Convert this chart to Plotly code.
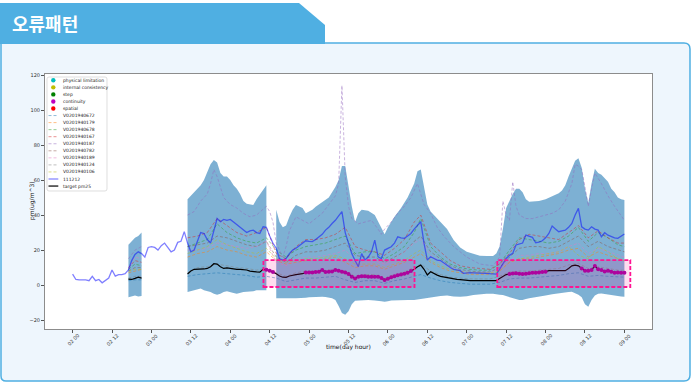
import plotly.graph_objects as go
from datetime import datetime, timedelta

# ---------------- data ----------------
tick_hours = [0, 12, 24, 36, 48, 60, 72, 84, 96, 108, 120, 132, 144, 156, 168]
tick_labels = ["02 00", "02 12", "03 00", "03 12", "04 00", "04 12", "05 00", "05 12",
               "06 00", "06 12", "07 00", "07 12", "08 00", "08 12", "09 00"]
y_ticks = [-20, 0, 20, 40, 60, 80, 100, 120]

# station 111212 (hourly, 02 00 .. 09 00)
obs_hours = list(range(0, 169))
obs_111212 = [
    6.3, 3.2, 3.0, 3.0, 3.0, 2.5, 5.0, 2.5, 3.2, 1.3, 2.5, 4.0,
    8.6, 5.1, 6.0, 6.0, 6.5, 8.6, 14.0, 17.5, 19.0, 18.0, 16.0, 21.5,
    22.0, 21.5, 20.0, 22.5, 24.0, 21.5, 19.0, 20.0, 24.4, 25.0, 30.5, 24.0,
    19.0, 20.0, 25.0, 30.0, 29.5, 26.0, 24.0, 31.0, 38.0, 36.2, 37.5, 37.0,
    37.5, 36.0, 34.5, 33.0, 31.8, 30.0, 31.0, 31.4, 30.0, 29.5, 33.3, 33.0,
    28.0, 24.0, 21.0, 15.0, 14.3, 15.2, 18.0, 20.0, 21.0, 22.5, 24.0, 25.3,
    25.0, 24.8, 26.0, 27.6, 29.0, 31.4, 33.0, 35.2, 37.0, 39.5, 42.0, 30.0,
    23.8, 18.0, 14.0, 10.5, 18.0, 14.3, 16.0, 19.0, 25.7, 16.2, 15.2, 20.0,
    21.0, 21.9, 24.0, 27.6, 27.0, 26.7, 28.0, 29.5, 32.0, 34.0, 36.2, 23.8,
    14.3, 16.2, 15.0, 14.3, 14.0, 12.5, 11.0, 10.0, 9.0, 8.5, 8.2, 6.7,
    7.0, 7.1, 7.0, 7.0, 6.8, 6.7, 6.7, 6.5, 6.4, 6.3, 9.0, 12.0,
    15.2, 17.0, 18.1, 22.9, 23.5, 24.0, 28.6, 28.0, 27.3, 24.2, 24.5, 25.3,
    27.0, 29.5, 33.7, 32.0, 30.5, 31.0, 31.4, 33.0, 35.2, 40.0, 43.8, 33.3,
    32.0, 31.4, 33.3, 32.0, 31.4, 27.6, 29.9, 28.5, 27.6, 27.0, 26.7, 28.0,
    29.2]

# target pm25
target_a_hours = [17, 18, 19, 20, 21]
target_a = [3.4, 3.2, 3.8, 4.5, 4.0]
target_b_hours = list(range(35, 169))
target_b = [
    6.3, 8.0, 9.0, 9.0, 9.0, 9.2, 9.5, 10.5, 12.2, 12.0, 10.5, 9.5,
    9.8, 9.5, 9.0, 9.0, 9.0, 9.0, 8.6, 8.0, 7.6, 7.5, 7.4, 9.0,
    8.8, 8.2, 7.4, 6.5, 5.2, 4.5, 4.4, 5.2, 5.8, 6.0, 6.3, 6.5,
    7.2, 7.2, 7.2, 7.4, 7.6, 8.6, 7.4, 7.6, 7.8, 8.6, 8.2, 7.6,
    7.2, 6.3, 4.8, 3.8, 4.8, 5.1, 5.0, 4.8, 4.8, 4.8, 4.8, 4.0,
    2.9, 3.6, 4.4, 5.0, 5.6, 6.0, 6.5, 7.0, 8.0, 9.0, 10.5, 11.4,
    9.0, 5.8, 7.6, 6.5, 5.7, 5.0, 4.6, 4.2, 3.8, 3.5, 3.3, 3.1,
    2.8, 2.5, 2.5, 2.5, 2.5, 2.5, 2.5, 2.5, 2.5, 2.5, 2.5, 3.8,
    5.0, 6.0, 6.3, 6.6, 6.7, 6.5, 6.3, 6.5, 6.7, 7.0, 7.1, 7.2,
    7.5, 7.6, 8.2, 8.2, 8.2, 8.2, 8.2, 8.2, 9.5, 11.0, 11.4, 11.0,
    9.5, 8.2, 8.2, 8.6, 10.9, 9.0, 8.6, 7.8, 8.2, 7.6, 7.1, 7.2,
    7.1, 7.1]

# hours flagged as continuity errors
continuity_hours = ([59, 60, 61] + list(range(71, 104)) + list(range(133, 145))
                    + list(range(155, 169)))

# ensemble band (three segments)
band_a_hours = [17, 18, 19, 20, 21]
band_a_upper = [23, 25, 27, 28, 30]
band_a_lower = [-7, -6.5, -6, -6.5, -6.3]
band_b_hours = list(range(35, 60))
band_b_upper = [49, 51, 53, 55, 57, 60, 64, 69, 71.5, 70, 64, 62, 62, 60, 57,
                55, 52, 48, 46.5, 46, 45.7, 49, 51.5, 54, 57]
band_b_lower = [-4, -3.5, -3, -2.5, -2, -3, -3.5, -4, -5, -5.5, -5, -4, -3.5, -4, -4.5,
                -5, -4.5, -4, -3.8, -3.5, -3.5, -3, -3, -2.9, -2.9]
band_c_hours = [62, 63, 64, 65, 66, 67, 68, 69, 70, 71, 72, 73, 74, 75, 76, 77, 78, 79, 80, 81,
                82, 83, 84, 85, 86, 87, 88, 90, 92, 93, 94, 95, 96, 97, 98, 100, 102, 104, 105, 106,
                107, 108, 109, 110, 112, 114, 116, 118, 120, 122, 124, 126, 128, 129, 130, 131, 132,
                133, 134, 135, 136, 137, 138, 139, 140, 142, 144, 146, 148, 149, 150, 151, 152, 153,
                154, 155, 156, 157, 158, 159, 160, 161, 162, 163, 164, 165, 166, 167, 168]
band_c_upper = [43, 36, 33, 34, 39, 43, 45.7, 45, 44, 41, 42, 43, 44.8, 46, 47.6, 48.5, 50, 53, 56, 60,
                68, 68, 55, 45, 36, 41, 43, 42.5, 40, 36, 32, 29, 33, 36, 39, 44, 50, 58, 65, 66,
                56, 46, 42, 40, 36, 32, 25.7, 21.5, 19, 17.7, 16.8, 16.6, 16.6, 18, 22, 32, 44,
                48, 52, 55, 55, 53, 49, 47.6, 47.6, 48, 49, 50.5, 52.4, 54, 57, 62, 67, 71,
                72.4, 67, 55, 47, 58, 66.5, 64, 63, 61, 59, 55, 53, 50, 49, 48.6]
band_c_lower = [-7.5, -7.5, -7.6, -7.5, -7.6, -7.5, -7.6, -7.5, -7.4, -7.2, -7, -7, -6.8, -6.7, -6.7,
                -6.8, -7, -7.5, -8.5, -12, -16, -17, -15, -11, -9, -8.6, -8.6, -8.6, -8.8, -9,
                -9.3, -9.5, -9.2, -8.8, -8.6, -8.6, -8.6, -8.6, -8.4, -8, -7.6, -7.2, -7, -6.8,
                -6.2, -6, -6.5, -6.7, -6.4, -5.7, -5.3, -5, -5, -5.2, -5.5, -5.7, -6, -6.5, -7.2,
                -8, -8.6, -8.6, -8, -7.5, -7, -6.5, -6, -5.2, -4.8, -4.5, -4.2, -4, -3.8, -4.5,
                -5.5, -7, -11, -12.4, -8.6, -6, -5, -4.8, -4.8, -5, -5.3, -5.8, -6.2, -6.5, -6.7]

# neighbouring stations (dashed)
dash_a_hours = [17, 19, 21]
dash_bc_hours = [35, 38, 41, 44, 47, 50, 53, 56, 59,
                 62, 65, 68, 71, 74, 77, 80, 83, 86, 89, 92, 95, 98, 101, 104, 106, 109, 112,
                 115, 118, 121, 124, 127, 130, 133, 136, 139, 142, 145, 148, 151, 154, 157, 160,
                 163, 166, 168]
v0672_a = [2.5, 3, 3]
v0672_bc = [5, 6, 6.5, 7, 6.5, 6, 5.5, 4.5, 5,
            4, 2, 3, 4, 4, 4.5, 5, 3, 1.5, 2.5, 2.5, 1, 2.5, 3.5, 5, 6, 4, 2.5, 1.5, 1,
            0.5, 0.5, 0.5, 1.5, 3.5, 4, 4, 4.5, 5, 5.5, 6.5, 7, 5, 5.5, 5, 4.5, 4.5]
v0179_a = [7, 8, 9]
v0179_bc = [16, 18, 19, 22, 20, 19, 17, 16, 19,
            14, 12, 13, 14, 14, 15, 16, 13, 10, 11, 11, 9, 11, 13, 16, 18, 13, 10, 8, 7,
            6, 6, 6, 8, 13, 15, 15, 16, 17, 18, 20, 21, 16, 19, 17, 15, 14]
v0678_a = [9, 12, 11]
v0678_bc = [22, 24, 26, 35, 30, 27, 25, 24, 27,
            20, 16, 20, 22, 23, 24, 26, 28, 18, 19, 19, 15, 18, 22, 30, 38, 22, 16, 12, 10,
            9, 8.5, 8.5, 12, 20, 27, 26, 25, 24, 25, 28, 33, 25, 30, 27, 23, 22]
v0167_a = [10, 14, 13]
v0167_bc = [27, 28, 30, 38, 34, 30, 28, 30, 33,
            18, 15, 22, 26, 26, 27, 29, 33, 22, 20, 19, 17, 21, 26, 36, 40, 24, 19, 14, 11,
            10, 9.5, 9, 12, 18, 26, 29, 28, 27, 26, 30, 34, 27, 31, 27, 24, 24]
v0782_a = [8, 10, 10]
v0782_bc = [22, 23, 24, 28, 27, 25, 23, 22, 25,
            16, 13, 17, 19, 19, 20, 22, 24, 17, 16, 16, 13, 16, 19, 25, 28, 19, 15, 11, 9,
            8, 7.5, 7.5, 10, 16, 21, 22, 22, 21, 22, 25, 28, 22, 25, 22, 20, 19]
v0189_a = [9, 16, 15]
v0189_bc = [20, 20, 21, 24, 23, 22, 21, 22, 25,
            13, 11, 15, 16, 16, 17, 18, 20, 14, 14, 14, 12, 15, 19, 24, 26, 17, 13, 10, 8,
            7, 7, 7, 9, 14, 17, 17, 18, 18, 19, 22, 24, 18, 21, 19, 17, 16]
v0124_a = [4, 5, 5]
v0124_bc = [7, 10, 10.5, 12, 11, 10, 9.5, 8.5, 9.5,
            7, 5, 7, 8, 8, 8.5, 9, 8, 5, 6, 6, 4, 6, 7.5, 10, 12, 8, 6, 4.5, 4,
            3.5, 3.5, 3.5, 5, 7.5, 8, 8, 8.5, 9, 9.5, 11.5, 12.5, 9.5, 10.5, 9.5, 8.5, 8.5]
v0106_a = [8, 9, 9]
v0106_bc = [18, 20, 22, 26, 23, 21, 19, 18, 21,
            15, 13, 14, 15, 15, 16, 17, 15, 12, 12, 12, 10, 12, 14, 18, 20, 14, 11, 9, 8,
            7, 7, 7, 8, 13, 15, 16, 17, 18, 19, 22, 17, 15, 22, 19, 15, 14]
v0187_hours = [17, 19, 21, None, 35, 37, 39, 41, 42, 43, 44, 46, 48, 50, 52, 54, 56, 58, 59, 60,
               61, 62, 64, 65, 66, 68, 70, 72, 74, 76, 78, 80, 81, 82, 83, 84, 85, 87, 89, 91,
               93, 94, 95, 97, 99, 101, 103, 105, 107, 109, 111, 113, 116, 120, 124, 128, 130,
               131, 132, 133, 134, 135, 136, 138, 140, 142, 144, 146, 148, 150, 152, 153, 154,
               155, 156, 157, 158, 159, 161, 163, 165, 168]
v0187 = [15, 20, 22, None, 40, 42, 48, 52, 58, 66, 62, 50, 46, 44, 41, 39, 40, 43, 45, 42,
         36, 24, 16, 22, 31, 39, 37, 35, 38, 41, 46, 51, 58, 114, 62, 45, 38, 35, 36, 37,
         32, 29, 32, 36, 41, 45, 50, 58, 46, 41, 33, 28, 22, 16, 12, 11, 16,
         48, 40, 37, 59, 45, 40, 38, 38, 39, 40, 41, 43, 48, 58, 69, 68,
         66, 56, 45, 55, 64, 58, 51, 45, 37]

station_names = ["V0201940672", "V0201940179", "V0201940678", "V0201940167", "V0201940187",
                 "V0201940782", "V0201940189", "V0201940124", "V0201940106"]
flag_names = ["physical limitation", "internal consistency", "step", "continuity", "spatial"]

# highlighted error windows
box_start_hours = [58.1, 129.3]
box_end_hours = [104.1, 169.8]
box_low = [-1.1, -1.1]
box_high = [14.3, 14.3]

# ---------------- styling / layout helpers ----------------
BASE = datetime(2020, 2, 2, 0, 0)


def t(h):
    return None if h is None else BASE + timedelta(hours=h)


W, H = 692, 382
ML, MR, MT, MB = 45, 40, 74, 53
PW, PH = W - ML - MR, H - MT - MB


def fx(px):
    return (px - ML) / PW


def fy(py):
    return (H - MB - py) / PH


def path(cmds):
    out = []
    for c in cmds:
        if c == "Z":
            out.append("Z")
            continue
        op, pts = c[0], c[1:]
        out.append(op + " ".join(f"{fx(px):.5f},{fy(py):.5f}" for px, py in pts))
    return " ".join(out)


TAB10 = ["31,119,180", "255,127,14", "44,160,44", "214,39,40", "148,103,189",
         "140,86,75", "227,119,194", "127,127,127", "188,189,34"]
FLAG_COLORS = ["#00BFBF", "#BFBF00", "#008000", "#BF00BF", "#FF0000"]
BAND = "rgba(31,119,180,0.58)"
OBS = "rgba(0,0,255,0.5)"
FONT = "DejaVu Sans"

fig = go.Figure()

# band
for hrs, up, lo in [(band_a_hours, band_a_upper, band_a_lower),
                    (band_b_hours, band_b_upper, band_b_lower),
                    (band_c_hours, band_c_upper, band_c_lower)]:
    assert len(hrs) == len(up) == len(lo)
    fig.add_trace(go.Scatter(x=[t(h) for h in hrs] + [t(h) for h in hrs[::-1]],
                             y=up + lo[::-1], fill="toself", fillcolor=BAND,
                             mode="lines", line=dict(width=0), hoverinfo="skip",
                             showlegend=False))

# dashed stations
dash_series = [(v0672_a, v0672_bc), (v0179_a, v0179_bc), (v0678_a, v0678_bc),
               (v0167_a, v0167_bc), None, (v0782_a, v0782_bc), (v0189_a, v0189_bc),
               (v0124_a, v0124_bc), (v0106_a, v0106_bc)]
for i, s in enumerate(dash_series):
    if s is None:
        assert len(v0187_hours) == len(v0187)
        xs = [t(h) for h in v0187_hours]
        ys = v0187
    else:
        a, bc = s
        assert len(a) == len(dash_a_hours) and len(bc) == len(dash_bc_hours), i
        xs = [t(h) for h in dash_a_hours] + [None] + [t(h) for h in dash_bc_hours]
        ys = a + [None] + bc
    fig.add_trace(go.Scatter(x=xs, y=ys, mode="lines", name=station_names[i],
                             line=dict(color=f"rgba({TAB10[i]},0.5)", width=1, dash="3px,2px"),
                             connectgaps=False, showlegend=False, hoverinfo="skip"))

# station 111212
assert len(obs_hours) == len(obs_111212)
fig.add_trace(go.Scatter(x=[t(h) for h in obs_hours], y=obs_111212, mode="lines",
                         line=dict(color=OBS, width=1.3), showlegend=False))

# target
assert len(target_b_hours) == len(target_b)
fig.add_trace(go.Scatter(x=[t(h) for h in target_a_hours] + [None] + [t(h) for h in target_b_hours],
                         y=target_a + [None] + target_b, mode="lines",
                         line=dict(color="black", width=1.2), connectgaps=False,
                         showlegend=False))

# continuity flags
tmap = dict(zip(target_b_hours, target_b))
fig.add_trace(go.Scatter(x=[t(h) for h in continuity_hours], y=[tmap[h] for h in continuity_hours],
                         mode="markers", marker=dict(color="#A000A0", size=4),
                         showlegend=False))

shapes = []
# panel + tab + plot area white
shapes.append(dict(type="path", xref="paper", yref="paper", layer="below",
                   path=path([("M", (1, 43)), ("L", (684, 43)), ("Q", (690, 43), (690, 49)),
                              ("L", (690, 375)), ("Q", (690, 381), (684, 381)),
                              ("L", (6, 381)), ("Q", (1, 381), (1, 376)), "Z"]),
                   fillcolor="#EEF6FD", line=dict(color="#4FAFE2", width=1.5)))
shapes.append(dict(type="path", xref="paper", yref="paper", layer="below",
                   path=path([("M", (0, 3)), ("L", (299, 3)), ("L", (325, 25)),
                              ("L", (325, 44)), ("L", (0, 44)), "Z"]),
                   fillcolor="#4FAFE2", line=dict(width=0)))
shapes.append(dict(type="rect", xref="paper", yref="paper", layer="below",
                   x0=0, x1=1, y0=0, y1=1, fillcolor="white", line=dict(width=0)))

# error windows
for x0, x1, y0, y1 in zip(box_start_hours, box_end_hours, box_low, box_high):
    shapes.append(dict(type="rect", xref="x", yref="y", layer="above",
                       x0=t(x0), x1=t(x1), y0=y0, y1=y1,
                       fillcolor="rgba(255,20,147,0.15)",
                       line=dict(color="#FF1493", width=1.8, dash="4px,2px")))

# manual legend
shapes.append(dict(type="path", xref="paper", yref="paper", layer="above",
                   path=path([("M", (49, 77)), ("L", (105, 77)), ("Q", (107, 77), (107, 79)),
                              ("L", (107, 189)), ("Q", (107, 191), (105, 191)),
                              ("L", (49, 191)), ("Q", (47, 191), (47, 189)),
                              ("L", (47, 79)), ("Q", (47, 77), (49, 77)), "Z"]),
                   fillcolor="rgba(255,255,255,0.9)", line=dict(color="#d6d6d6", width=0.8)))
legend_labels = flag_names + station_names + ["111212", "target pm25"]
annotations = []
for i, lab in enumerate(legend_labels):
    yy = 80.3 + i * 7.05
    if i < 5:
        r = 2.2
        shapes.append(dict(type="circle", xref="paper", yref="paper", layer="above",
                           x0=fx(53.3 - r), x1=fx(53.3 + r), y0=fy(yy + r), y1=fy(yy - r),
                           fillcolor=FLAG_COLORS[i], line=dict(width=0)))
    else:
        if i < 14:
            ln = dict(color=f"rgba({TAB10[i - 5]},0.5)", width=1, dash="3px,2px")
        elif i == 14:
            ln = dict(color=OBS, width=1.2)
        else:
            ln = dict(color="black", width=1.2)
        shapes.append(dict(type="line", xref="paper", yref="paper", layer="above",
                           x0=fx(48.5), x1=fx(58.3), y0=fy(yy), y1=fy(yy), line=ln))
    annotations.append(dict(x=fx(61), y=fy(yy), xref="paper", yref="paper", text=lab,
                            showarrow=False, xanchor="left", yanchor="middle",
                            font=dict(family=FONT, size=4.5, color="#222")))

# x tick labels, rotated and centred like the original
for h, lab in zip(tick_hours, tick_labels):
    annotations.append(dict(x=t(h), y=fy(339.5), xref="x", yref="paper", text=lab,
                            showarrow=False, textangle=-45, xanchor="center", yanchor="middle",
                            font=dict(family=FONT, size=5, color="#333")))

annotations.append(dict(x=fx(348.5), y=fy(352.5), xref="paper", yref="paper",
                        text="time(day hour)", showarrow=False,
                        font=dict(family=FONT, size=6, color="#111")))
annotations.append(dict(x=fx(26), y=fy(201), xref="paper", yref="paper",
                        text="pm(ug/m^3)", showarrow=False, textangle=-90,
                        font=dict(family=FONT, size=6, color="#111")))
annotations.append(dict(x=fx(10), y=fy(23), xref="paper", yref="paper",
                        text="<b>오류패턴</b>", showarrow=False, xanchor="left", yanchor="middle",
                        font=dict(family="Noto Sans CJK KR", size=18, color="white")))

fig.update_layout(
    width=W, height=H, autosize=False,
    margin=dict(l=ML, r=MR, t=MT, b=MB, pad=0),
    paper_bgcolor="white", plot_bgcolor="white",
    showlegend=False,
    shapes=shapes, annotations=annotations,
    font=dict(family=FONT),
)
fig.update_xaxes(type="date", range=[t(-8.4), t(176.4)], tickvals=[t(h) for h in tick_hours],
                 showticklabels=False, ticks="outside", ticklen=3, tickwidth=0.8,
                 tickcolor="#555", showgrid=False, zeroline=False, showline=True,
                 mirror=True, linecolor="#8c8c8c", linewidth=1, automargin=False)
fig.update_yaxes(range=[-25.1, 120.6], tickvals=y_ticks, ticks="outside", ticklen=3,
                 tickwidth=0.8, tickcolor="#555", tickfont=dict(family=FONT, size=5, color="#333"),
                 showgrid=False, zeroline=False, showline=True, mirror=True,
                 linecolor="#8c8c8c", linewidth=1, automargin=False)

fig.write_html("out.html", config={"displayModeBar": False},
               post_script="document.body.style.margin='0px';")
